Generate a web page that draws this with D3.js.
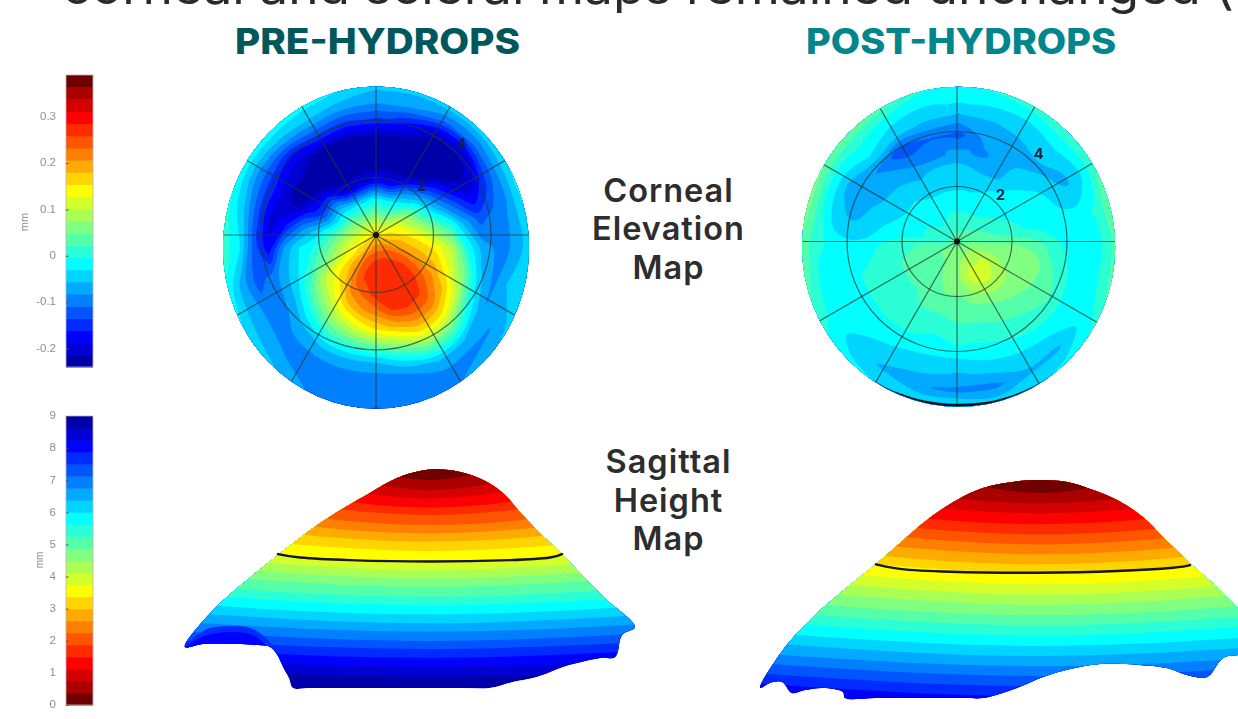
<!DOCTYPE html>
<html>
<head>
<meta charset="utf-8">
<title>Corneal and scleral maps</title>
<script src="https://cdn.jsdelivr.net/npm/d3@7"></script>
<style>
  html, body { margin: 0; padding: 0; background: #fff; overflow: hidden; }
  svg { display: block; }
  text { font-family: Inter, "Open Sans", sans-serif; }
  .bar text, .bar-label { font-family: "Liberation Sans", Arial, sans-serif; fill: #8f8f8f; }
  .soft { filter: blur(0.6px); }
</style>
</head>
<body>
<div id="container"></div>
<script>
'use strict'

// jet palette, 24 steps, low value to high value
const jetColors = ["#0000aa", "#0000d5", "#0000ff", "#002bff", "#0055ff", "#0080ff", "#00aaff", "#00d5ff",
                   "#00ffff", "#2bffd5", "#55ffaa", "#80ff80", "#aaff55", "#d5ff2b", "#ffff00", "#ffd500",
                   "#ffaa00", "#ff8000", "#ff5500", "#ff2b00", "#ff0000", "#d50000", "#aa0000", "#700000"];

// Texts
const headline = "corneal and scleral maps remained unchanged (";
const columnTitles = ["PRE-HYDROPS", "POST-HYDROPS"];
const elevationLabel = ["Corneal", "Elevation", "Map"];
const sagittalLabel = ["Sagittal", "Height", "Map"];

// Colour bars
const elevationRange = [-0.24, 0.39];
const elevationTicks = [-0.2, -0.1, 0, 0.1, 0.2, 0.3];
const heightRange = [0, 9];
const heightTicks = [0, 1, 2, 3, 4, 5, 6, 7, 8, 9];

// Polar overlay
const spokeAngles = [0, 30, 60, 90, 120, 150, 180, 210, 240, 270, 300, 330];
const ringRadii = [2, 4];
const ringLabels = [{ text: "2", r: 2.32, angle: 43 }, { text: "4", r: 4.35, angle: 43 }];

// Corneal elevation in mm. One row per 15 degrees clockwise from the top,
// each row runs from the middle of the scan (0) to its rim (1) in tenths
const preElevation = [
  [.22,.15,.06,-.02,-.17,-.23,-.23,-.22,-.14,-.08,-.05],
  [.22,.14,.05,-.03,-.17,-.23,-.23,-.22,-.16,-.08,-.05],
  [.22,.15,.08,-.01,-.1,-.22,-.23,-.23,-.21,-.11,-.04],
  [.22,.17,.12,.05,-.05,-.14,-.22,-.23,-.21,-.11,-.04],
  [.22,.18,.14,.08,0,-.08,-.15,-.2,-.15,-.09,-.03],
  [.22,.2,.17,.13,.07,.01,-.07,-.12,-.1,-.08,-.03],
  [.22,.21,.19,.17,.14,.09,-.01,-.07,-.09,-.08,-.04],
  [.22,.24,.23,.2,.18,.12,.05,-.05,-.09,-.05,-.04],
  [.22,.25,.26,.25,.22,.18,.1,-.01,-.08,-.08,-.05],
  [.22,.26,.28,.28,.26,.22,.15,.05,-.05,-.09,-.07],
  [.22,.27,.28,.28,.27,.22,.15,.05,-.05,-.09,-.09],
  [.22,.27,.28,.28,.26,.19,.1,-.01,-.08,-.1,-.1],
  [.22,.27,.28,.27,.22,.16,.06,-.05,-.09,-.1,-.11],
  [.22,.26,.27,.24,.2,.13,.04,-.05,-.09,-.1,-.1],
  [.22,.25,.25,.22,.17,.1,.03,-.05,-.09,-.09,-.08],
  [.22,.23,.21,.17,.12,.06,-.01,-.07,-.09,-.08,-.05],
  [.22,.2,.17,.14,.09,.02,-.05,-.09,-.09,-.07,-.03],
  [.22,.17,.13,.08,.03,-.02,-.06,-.1,-.12,-.07,-.01],
  [.22,.16,.11,.05,0,-.03,-.08,-.18,-.12,-.02,.01],
  [.22,.14,.09,.02,-.05,-.1,-.17,-.2,-.13,-.05,0],
  [.22,.14,.07,-.03,-.13,-.19,-.23,-.19,-.14,-.08,-.01],
  [.22,.13,.06,-.03,-.12,-.22,-.22,-.21,-.16,-.07,-.01],
  [.22,.13,.05,-.04,-.2,-.23,-.23,-.22,-.13,-.06,-.02],
  [.22,.14,.05,-.04,-.19,-.23,-.23,-.22,-.14,-.07,-.03]
];

const postElevation = [
  [.05,.02,0,-.02,-.04,-.05,-.08,-.12,-.07,-.03,-.01],
  [.05,.02,0,-.02,-.04,-.06,-.09,-.07,-.06,-.03,0],
  [.05,.03,0,-.02,-.03,-.06,-.06,-.08,-.05,-.03,.01],
  [.05,.03,.01,-.01,-.02,-.03,-.05,-.06,-.05,-.02,.02],
  [.05,.04,.02,0,-.01,-.02,-.02,-.05,-.06,-.03,.02],
  [.05,.05,.03,.02,0,-.01,-.02,-.02,-.02,0,.04],
  [.05,.06,.06,.06,.05,.04,.01,-.01,-.02,-.01,.03],
  [.05,.08,.08,.07,.07,.06,.03,0,-.02,-.01,.03],
  [.05,.09,.11,.08,.07,.05,.04,.01,-.03,-.02,0],
  [.05,.09,.11,.1,.06,.04,.02,0,-.03,-.06,-.02],
  [.05,.09,.12,.09,.05,.03,.01,-.01,-.04,-.06,-.04],
  [.05,.08,.1,.07,.04,.02,0,-.02,-.05,-.09,-.04],
  [.05,.07,.07,.05,.03,.02,0,-.03,-.06,-.09,-.02],
  [.05,.06,.05,.05,.03,.01,-.01,-.03,-.05,-.08,-.03],
  [.05,.05,.05,.04,.03,.01,0,-.02,-.05,-.06,-.03],
  [.05,.05,.04,.03,.02,.01,0,-.01,-.03,-.05,-.02],
  [.05,.05,.04,.03,.02,.01,0,-.01,-.01,-.01,0],
  [.05,.05,.04,.03,.02,.01,0,-.01,-.01,-.01,.03],
  [.05,.04,.04,.02,.01,0,-.02,-.02,-.01,0,.04],
  [.05,.02,0,-.01,-.02,-.03,-.05,-.06,-.05,0,.06],
  [.05,.01,0,-.01,-.03,-.05,-.06,-.06,-.06,-.01,.05],
  [.05,.01,-.01,-.02,-.03,-.05,-.07,-.09,-.03,0,.04],
  [.05,.01,-.01,-.02,-.04,-.06,-.09,-.13,-.05,-.02,.03],
  [.05,.02,0,-.02,-.04,-.05,-.1,-.11,-.06,-.03,0]
];

// dark rim on the post-hydrops scan, [degrees clockwise from the top, thickness in px]
const postRim = [[144,0],[150,.8],[157,1.5],[165,2.1],[172,2.6],[180,3],[188,2.7],[195,2.2],[203,1.5],[210,.8],[217,0]];

// Sagittal height, side view. [lateral mm, apparent height mm]
const preOutline = [[-8.17,1.71],[-7.23,3.25],[-6.1,4.5],[-5.07,5.54],[-4,6.58],[-3.1,7.33],[-2,8.13],[-1.1,8.75],
  [-.33,9.04],[.23,9.11],[1,9],[1.77,8.67],[2.43,8.13],[3,7.33],[3.57,6.58],[4.43,5.54],[5.23,4.5],[5.9,3.67],[6.83,2.54],
  [6.4,2.21],[6.17,1.29],[5.67,1.25],[4.43,.88],[3.57,.46],[2.77,.25],[2,0],[1,0],[0,0],[-1,0],[-2,0],[-3,0],[-4,0],[-4.57,0],
  [-4.7,.4],[-4.9,.88],[-5.1,1.4],[-5.33,1.71],[-5.83,1.79],[-6.43,1.83],[-7.57,1.83]];
const postOutline = [[-9.33,.42],[-8.57,2],[-7.43,3.54],[-6.33,4.71],[-5.43,5.63],[-4.67,6.46],[-3.77,7.42],[-2.77,8.25],
  [-1.9,8.75],[-.9,9],[-.1,9.08],[.9,9],[1.77,8.67],[2.57,8.25],[3.43,7.54],[4.1,6.71],[5,5.63],[5.9,4.63],[6.6,3.75],[7,3.25],
  [7,1.79],[6.6,1.79],[6.1,1.67],[5.57,.88],[4.9,.96],[4.23,1.25],[3.33,1.38],[2,1.42],[1,1.21],[.1,.88],[-.77,.42],[-1.9,0],
  [-2.5,0],[-3.5,0],[-4.5,0],[-5.5,0],[-6.5,0],[-6.57,.25],[-7.23,.42],[-7.83,.33],[-8.27,.21],[-8.6,.67],[-9,.63]];

// darker lobe above the notch of the pre-hydrops side view
const preLobeOuter = [[-8,1.92],[-7.5,2.42],[-6.73,2.58],[-6,2.5],[-5.4,2],[-4.93,1.08],[-5.33,1.79],[-7.67,1.92]];
const preLobeInner = [[-8.13,1.71],[-7.5,2.17],[-6.6,2.33],[-5.93,2.21],[-5.5,1.83],[-5,1.17],[-5.33,1.58],[-7.57,1.67]];

// limbus line on the side view
const preLimbus = [[-5.07,5.58],[-4.33,5.44],[-2.67,5.33],[0,5.27],[2.67,5.33],[4,5.44],[4.4,5.58]];
const postLimbus = [[-5.47,5.57],[-4.67,5.38],[-3,5.26],[-.1,5.22],[2.57,5.29],[4.43,5.43],[5,5.54]];

// apparent height of each colour step, at the apex column and at the outer columns
const preSideColumns = [-8.5, 0, 8.5];
const preStepApex = [.47,.89,1.26,1.63,1.96,2.35,2.7,3.07,3.46,3.8,4.22,4.57,4.92,5.24,5.71,6.1,6.45,6.79,7.21,7.51,7.9,8.25,8.67];
const preStepEdge = [.8,1.22,1.64,2,2.38,2.77,3.16,3.53,3.92,4.3,4.76,5.15,5.55,5.95,6.5,7.02,7.49,8.04,8.71,9.39,10.4,11.79,14.92];
const postSideColumns = [-9.5, 0, 9.5];
const postStepApex = [-.75,-.33,.08,.5,.92,1.33,1.75,2.17,2.61,3.03,3.45,3.9,4.32,4.74,5.22,5.57,5.99,6.4,6.82,7.24,7.7,8.11,8.55];
const postStepEdge = [-.25,.17,.62,1.04,1.46,1.87,2.33,2.75,3.24,3.66,4.12,4.61,5.07,5.57,6.14,6.53,6.99,7.44,7.9,8.41,9.03,9.99,13.55];

const w = 1238;
const h = 719;
const svg = d3.select("#container").append("svg").attr("width", w).attr("height", h);
const defs = svg.append("defs");

// Texts
svg.append("text").text(headline)
   .attr("x", 62).attr("y", 3.5)
   .attr("textLength", 1172).attr("lengthAdjust", "spacingAndGlyphs")
   .style("font-size", "47px").style("font-weight", "400").attr("fill", "#2a2a2a");

svg.append("text").text(columnTitles[0])
   .attr("x", 235).attr("y", 54)
   .attr("textLength", 285).attr("lengthAdjust", "spacingAndGlyphs")
   .style("font-size", "35px").style("font-weight", "800").attr("fill", "#00575c");
svg.append("text").text(columnTitles[1])
   .attr("x", 806).attr("y", 54)
   .attr("textLength", 310).attr("lengthAdjust", "spacingAndGlyphs")
   .style("font-size", "35px").style("font-weight", "800").attr("fill", "#00868c");

function rowLabel(lines, baselines) {
  lines.forEach(function(line, i) {
    svg.append("text").text(line)
       .attr("x", 668.5).attr("y", baselines[i])
       .attr("text-anchor", "middle")
       .style("font-size", "32.5px").style("font-weight", "600").style("letter-spacing", "1px")
       .attr("fill", "#2d2d2d");
  });
}
rowLabel(elevationLabel, [202, 240, 279]);
rowLabel(sagittalLabel, [473, 512, 550]);

// Colour bars
function colorBar(domain, range, ticks, colors, labelX, labelY, labelSize) {
  const yScale = d3.scaleLinear().domain(domain).range(range);
  const step = (domain[1] - domain[0]) / colors.length;
  const g = svg.append("g").attr("class", "bar soft").attr("transform", "translate(66,0)");
  g.selectAll("rect").data(colors).enter().append("rect")
   .attr("x", 0).attr("width", 27)
   .attr("y", (d, i) => yScale(domain[0] + step * (i + 1)))
   .attr("height", (d, i) => yScale(domain[0] + step * i) - yScale(domain[0] + step * (i + 1)) + 0.5)
   .attr("fill", d => d);
  g.append("rect").attr("x", 0).attr("width", 27)
   .attr("y", range[1]).attr("height", range[0] - range[1])
   .attr("fill", "none").attr("stroke", "#b5b5b5").attr("stroke-width", 0.8);
  const axis = d3.axisLeft(yScale).tickValues(ticks).tickSizeOuter(0).tickSizeInner(-2.5).tickPadding(10)
                 .tickFormat(d => d);
  const ax = g.append("g").call(axis);
  ax.select(".domain").remove();
  ax.selectAll("line").attr("stroke", "#555");
  ax.selectAll("text").style("font-size", "11.5px").attr("dy", "0.25em");
  svg.append("text").attr("class", "bar-label soft").text("mm")
     .attr("transform", "translate(" + labelX + "," + labelY + ") rotate(-90)")
     .attr("text-anchor", "middle").style("font-size", labelSize);
}
colorBar(elevationRange, [367, 75], elevationTicks, jetColors, 28, 222, "11px");
colorBar(heightRange, [705, 416], heightTicks, jetColors.slice().reverse(), 43, 560, "10px");

// Corneal elevation maps, d3.contours on the polar table, bent back onto the scan ellipse
function elevationMap(id, table, o) {
  const rows = table.concat([table[0]]);   // close the circle
  const rhoScale = d3.scaleLinear().domain([0.5, 10.5]).range([0, 1]);
  const thetaScale = d3.scaleLinear().domain([0.5, rows.length - 0.5]).range([0, 2 * Math.PI]);
  const xScale = d3.scaleLinear().domain([-1, 1]).range([o.cx - o.rx, o.cx + o.rx]);
  const yScale = d3.scaleLinear().domain([-1, 1]).range([o.cy - o.ry, o.cy + o.ry]);
  const step = (elevationRange[1] - elevationRange[0]) / jetColors.length;
  const levels = jetColors.map((c, i) => elevationRange[0] + step * i);
  const contours = d3.contours().size([11, rows.length]).thresholds(levels)(d3.merge(rows));

  defs.append("clipPath").attr("id", id)
      .append("ellipse").attr("cx", o.cx).attr("cy", o.cy).attr("rx", o.rx).attr("ry", o.ry);

  const g = svg.append("g").attr("class", "soft");
  const map = g.append("g").attr("clip-path", "url(#" + id + ")");
  const toMap = p => d3.pointRadial(thetaScale(p[1]), Math.max(0, rhoScale(p[0])));
  const ringLine = d3.line().x(d => xScale(toMap(d)[0])).y(d => yScale(toMap(d)[1]))
                     .curve(d3.curveCatmullRomClosed.alpha(0.5));

  map.selectAll("path.band").data(contours).enter().append("path")
     .attr("class", "band")
     .attr("fill", (d, i) => jetColors[i])
     .attr("d", d => d.coordinates.map(poly => poly.map(ring => ringLine(ring.slice(0, -1))).join("")).join(""));

  // polar grid
  const rScale = d3.scaleLinear().domain([0, 4]).range([0, o.r4]);
  const overlay = map.append("g").attr("transform", "translate(" + o.px + "," + o.py + ")");
  overlay.selectAll("circle").data(ringRadii).enter().append("circle")
       .attr("r", d => rScale(d))
       .attr("fill", "none").attr("stroke", "#24382f").attr("stroke-opacity", 0.72).attr("stroke-width", 1.2);
  overlay.selectAll("line").data(spokeAngles).enter().append("line")
       .attr("x2", d => d3.pointRadial(d * Math.PI / 180, rScale(7))[0])
       .attr("y2", d => d3.pointRadial(d * Math.PI / 180, rScale(7))[1])
       .attr("stroke", "#24382f").attr("stroke-opacity", 0.72).attr("stroke-width", 1.2);
  overlay.append("circle").attr("r", 3).attr("fill", "#111");
  overlay.selectAll("text").data(ringLabels).enter().append("text")
       .text(d => d.text)
       .attr("x", d => d3.pointRadial(d.angle * Math.PI / 180, rScale(d.r))[0])
       .attr("y", d => d3.pointRadial(d.angle * Math.PI / 180, rScale(d.r))[1] + 5)
       .attr("text-anchor", "middle").attr("fill", "#0c2244")
       .style("font-size", "15px").style("font-weight", "700");

  // rim crescent, thickness in px inside the ellipse
  if (o.rim) {
    const rimPoint = d => d3.pointRadial(d[0] * Math.PI / 180, 1);
    map.append("path")
       .attr("d", d3.area()
         .x(d => xScale(rimPoint(d)[0]))
         .y0(d => yScale(rimPoint(d)[1]))
         .y1(d => yScale(rimPoint(d)[1]) - d[1])
         .curve(d3.curveNatural)(o.rim))
       .attr("fill", "#04101c");
  }
}

elevationMap("preClip", preElevation, { cx: 376, cy: 247.5, rx: 153, ry: 161, px: 376, py: 235, r4: 115 });
elevationMap("postClip", postElevation, { cx: 958.6, cy: 246.7, rx: 156.5, ry: 160, px: 957, py: 241.5, r4: 110, rim: postRim });

// Sagittal height maps, colour steps clipped to the side outline
function sagittalMap(id, outline, limbus, columns, apex, edge, o) {
  const xScale = d3.scaleLinear().domain([-1, 1]).range([o.x0 - 30, o.x0 + 30]);
  const yScale = d3.scaleLinear().domain([0, 9]).range([o.y0, o.y0 - 216]);
  const g = svg.append("g").attr("class", "soft");
  const outlineLine = d3.line().x(d => xScale(d[0])).y(d => yScale(d[1])).curve(d3.curveCatmullRomClosed.alpha(0.5));

  defs.append("clipPath").attr("id", id).append("path").attr("d", outlineLine(outline));
  const map = g.append("g").attr("clip-path", "url(#" + id + ")");

  map.append("path").attr("d", outlineLine(outline)).attr("fill", jetColors[0]);

  const area = d3.area().x(d => xScale(d[0])).y1(d => yScale(d[1])).y0(0).curve(d3.curveNatural);
  const steps = apex.map((a, i) => [[columns[0], edge[i]], [columns[1], a], [columns[2], edge[i]]]);
  map.selectAll("path.step").data(steps).enter().append("path")
     .attr("class", "step")
     .attr("d", area)
     .attr("fill", (d, i) => jetColors[i + 1]);

  (o.lobes || []).forEach(function(lobe) {
    map.append("path").attr("d", outlineLine(lobe.points)).attr("fill", lobe.color);
  });

  g.append("path")
   .attr("d", d3.line().x(d => xScale(d[0])).y(d => yScale(d[1])).curve(d3.curveNatural)(limbus))
   .attr("fill", "none").attr("stroke", "#16160f").attr("stroke-width", 2.4).attr("stroke-linecap", "round");
}

sagittalMap("preSide", preOutline, preLimbus, preSideColumns, preStepApex, preStepEdge,
            { x0: 430, y0: 688, lobes: [{ points: preLobeOuter, color: jetColors[3] }, { points: preLobeInner, color: jetColors[2] }] });
sagittalMap("postSide", postOutline, postLimbus, postSideColumns, postStepApex, postStepEdge, { x0: 1040, y0: 698 });
</script>
</body>
</html>
